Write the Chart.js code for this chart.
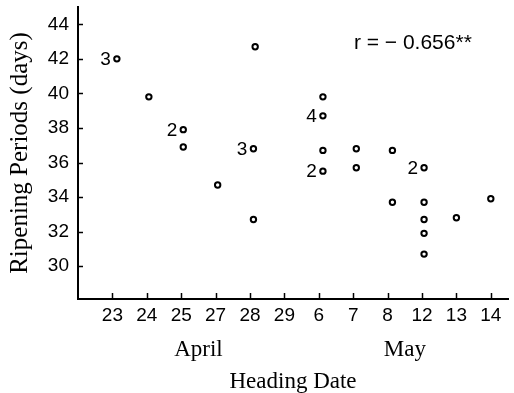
<!DOCTYPE html>
<html>
<head>
<meta charset="utf-8">
<script src="https://cdn.jsdelivr.net/npm/chart.js@4"></script>
<style>
  html, body { margin: 0; padding: 0; background: #fff; }
  canvas { display: block; }
</style>
</head>
<body>
<canvas id="chart" width="514" height="393"></canvas>
<script>
  // heading dates (equally spaced on the axis)
  const dateLabels = ["23", "24", "25", "27", "28", "29", "6", "7", "8", "12", "13", "14"];
  const monthLabels = ["April", "May"];
  const monthPositions = [2.5, 8.5];

  // points: x as date index (slightly right of the tick, as printed), y in days
  const pointX = [0.13, 1.06, 2.06, 2.06, 3.06, 4.15, 4.1, 4.1, 6.12, 6.12, 6.12, 6.12, 7.09, 7.09, 8.14, 8.14, 9.06, 9.06, 9.06, 9.06, 9.06, 10.0, 11.0];
  const pointY = [42.0, 39.8, 37.9, 36.9, 34.7, 42.7, 36.8, 32.7, 39.8, 38.7, 36.7, 35.5, 36.8, 35.7, 36.7, 33.7, 35.7, 33.7, 32.7, 31.9, 30.7, 32.8, 33.9];

  // count labels printed next to some points
  const countText = ["3", "2", "3", "4", "2", "2"];
  const countX = [0.13, 2.06, 4.1, 6.12, 6.12, 9.06];
  const countY = [42.0, 37.9, 36.8, 38.7, 35.5, 35.7];

  const yTicks = [30, 32, 34, 36, 38, 40, 42, 44];
  const rText = "r = \u2212 0.656**";

  const sansFont = "'Liberation Sans', Arial, sans-serif";
  const serifFont = "'Liberation Serif', 'Times New Roman', serif";

  const extras = {
    id: "extras",
    afterDraw(chart) {
      const ctx = chart.ctx;
      const x = chart.scales.x;
      const y = chart.scales.y;
      const { left, bottom } = chart.chartArea;
      ctx.save();
      ctx.strokeStyle = "#000";
      ctx.lineWidth = 1.5;
      // inward ticks on both axes
      for (let i = 0; i < dateLabels.length; i++) {
        const px = Math.round(x.getPixelForValue(i)) + 0.5;
        ctx.beginPath();
        ctx.moveTo(px, bottom);
        ctx.lineTo(px, bottom - 6);
        ctx.stroke();
      }
      for (const v of yTicks) {
        const py = Math.round(y.getPixelForValue(v)) + 0.5;
        ctx.beginPath();
        ctx.moveTo(left, py);
        ctx.lineTo(left + 5, py);
        ctx.stroke();
      }
      ctx.fillStyle = "#000";
      // month names
      ctx.font = "23px " + serifFont;
      ctx.textAlign = "center";
      ctx.textBaseline = "middle";
      for (let i = 0; i < monthLabels.length; i++) {
        ctx.fillText(monthLabels[i], x.getPixelForValue(monthPositions[i]), bottom + 51);
      }
      // counts
      ctx.font = "19px " + sansFont;
      ctx.textAlign = "right";
      for (let i = 0; i < countText.length; i++) {
        ctx.fillText(countText[i], x.getPixelForValue(countX[i]) - 6, y.getPixelForValue(countY[i]) + 1);
      }
      // correlation
      ctx.font = "21px " + sansFont;
      ctx.textAlign = "left";
      ctx.fillText(rText, x.getPixelForValue(7.02), y.getPixelForValue(42.9));
      ctx.restore();
    },
  };

  new Chart(document.getElementById("chart").getContext("2d"), {
    type: "scatter",
    data: {
      datasets: [
        {
          data: pointX.map((v, i) => ({ x: v, y: pointY[i] })),
          pointStyle: "circle",
          pointRadius: 2.7,
          pointBorderWidth: 2,
          pointBorderColor: "#000",
          pointBackgroundColor: "#fff",
        },
      ],
    },
    options: {
      responsive: false,
      animation: false,
      layout: { padding: { left: 0, right: 2, top: 7, bottom: 0 } },
      plugins: {
        legend: { display: false },
        tooltip: { enabled: false },
      },
      scales: {
        x: {
          type: "linear",
          min: -1,
          max: 11.5,
          afterBuildTicks: (s) => {
            s.ticks = dateLabels.map((_, i) => ({ value: i }));
          },
          afterFit: (s) => {
            s.height = 94;
            s.paddingLeft = 0;
            s.paddingRight = 0;
          },
          ticks: {
            color: "#000",
            font: { size: 19, family: sansFont },
            padding: 5,
            autoSkip: false,
            maxRotation: 0,
            callback: (v) => dateLabels[v],
          },
          grid: { display: false, drawTicks: false },
          border: { display: true, color: "#000", width: 2 },
          title: {
            display: true,
            text: "Heading Date",
            color: "#000",
            font: { size: 23, family: serifFont, lineHeight: 1 },
            padding: { top: 0, bottom: 0 },
          },
        },
        y: {
          min: 28.1,
          max: 45,
          afterBuildTicks: (s) => {
            s.ticks = yTicks.map((v) => ({ value: v }));
          },
          afterFit: (s) => {
            s.width = 78;
            s.paddingTop = 0;
            s.paddingBottom = 0;
          },
          ticks: {
            color: "#000",
            font: { size: 19, family: sansFont },
            padding: 9,
          },
          grid: { display: false, drawTicks: false },
          border: { display: true, color: "#000", width: 2 },
          title: {
            display: true,
            text: "Ripening Periods (days)",
            color: "#000",
            font: { size: 25, family: serifFont, lineHeight: 1 },
            padding: { top: 8, bottom: 0 },
          },
        },
      },
    },
    plugins: [extras],
  });
</script>
</body>
</html>
